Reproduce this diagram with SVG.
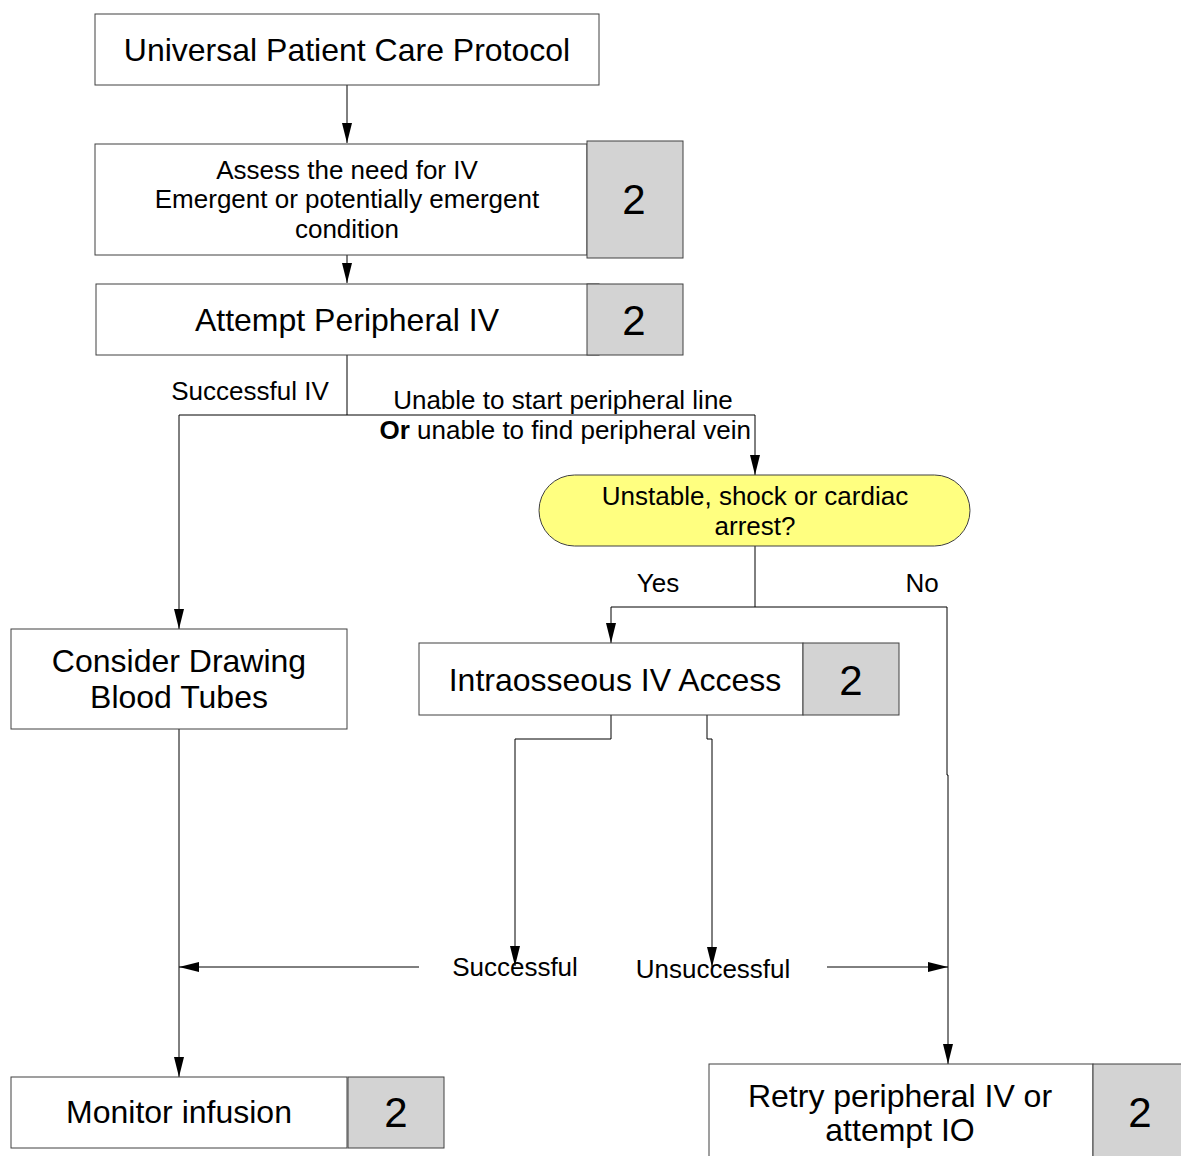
<svg xmlns="http://www.w3.org/2000/svg" width="1181" height="1156" viewBox="0 0 1181 1156">
<style>
.box{fill:#fff;stroke:#404040;stroke-width:1}
.num{fill:#d3d3d3;stroke:#404040;stroke-width:1}
.term{fill:#ffff80;stroke:#404040;stroke-width:1}
.t{font-family:"Liberation Sans",Arial,sans-serif;fill:#000;text-anchor:middle}
.big{font-size:32px}
.med{font-size:26px}
.n{font-size:42px}
.c{fill:none;stroke:#000;stroke-width:1}
</style>
<defs>
<marker id="ah" markerWidth="20" markerHeight="10" refX="20" refY="5" orient="auto" markerUnits="userSpaceOnUse">
<path d="M0,0 L20,5 L0,10 Z" fill="#000"/>
</marker>
</defs>
<rect width="1181" height="1156" fill="#fff"/>
<g id="connectors">
<path class="c" d="M347,85 V143" marker-end="url(#ah)"/>
<path class="c" d="M347,255 V283" marker-end="url(#ah)"/>
<path class="c" d="M347,355 V415"/>
<path class="c" d="M347,415 H179 V629" marker-end="url(#ah)"/>
<path class="c" d="M347,415 H755 V475" marker-end="url(#ah)"/>
<path class="c" d="M755,546 V607"/>
<path class="c" d="M755,607 H611 V643" marker-end="url(#ah)"/>
<path class="c" d="M755,607 H947 V775 H948 V1064" marker-end="url(#ah)"/>
<path class="c" d="M611,715 V739 H515 V966" marker-end="url(#ah)"/>
<path class="c" d="M707,715 V739 H712 V967" marker-end="url(#ah)"/>
<path class="c" d="M419,967 H179" marker-end="url(#ah)"/>
<path class="c" d="M827,967 H948" marker-end="url(#ah)"/>
<path class="c" d="M179,729 V1077" marker-end="url(#ah)"/>
<text class="t med" x="250" y="400">Successful IV</text>
<text class="t med" x="563" y="409">Unable to start peripheral line</text>
<text class="t med" x="751" y="439" style="text-anchor:end"><tspan font-weight="bold">Or</tspan> unable to find peripheral vein</text>
<text class="t med" x="658" y="592">Yes</text>
<text class="t med" x="922" y="592">No</text>
<text class="t med" x="515" y="976">Successful</text>
<text class="t med" x="713" y="978">Unsuccessful</text>
</g>
<g id="n1">
<rect class="box" x="95" y="14" width="504" height="71"/>
<text class="t big" x="347" y="61">Universal Patient Care Protocol</text>
</g>
<g id="n2">
<rect class="box" x="95" y="144" width="492" height="111"/>
<rect class="num" x="587" y="141" width="96" height="117"/>
<text class="t med" x="347" y="179">Assess the need for IV</text>
<text class="t med" x="347" y="208">Emergent or potentially emergent</text>
<text class="t med" x="347" y="238">condition</text>
<text class="t n" x="634" y="214">2</text>
</g>
<g id="n3">
<rect class="box" x="96" y="284" width="503" height="71"/>
<rect class="num" x="587" y="284" width="96" height="71"/>
<text class="t big" x="347" y="331">Attempt Peripheral IV</text>
<text class="t n" x="634" y="335">2</text>
</g>
<g id="n4">
<rect class="term" x="539" y="475" width="431" height="71" rx="35.5" ry="35.5"/>
<text class="t med" x="755" y="505">Unstable, shock or cardiac</text>
<text class="t med" x="755" y="535">arrest?</text>
</g>
<g id="n5">
<rect class="box" x="11" y="629" width="336" height="100"/>
<text class="t big" x="179" y="672">Consider Drawing</text>
<text class="t big" x="179" y="708">Blood Tubes</text>
</g>
<g id="n6">
<rect class="box" x="419" y="643" width="384" height="72"/>
<rect class="num" x="803" y="643" width="96" height="72"/>
<text class="t big" x="615" y="691">Intraosseous IV Access</text>
<text class="t n" x="851" y="695">2</text>
</g>
<g id="n7">
<rect class="box" x="11" y="1077" width="336" height="71"/>
<rect class="num" x="348" y="1077" width="96" height="71"/>
<text class="t big" x="179" y="1123">Monitor infusion</text>
<text class="t n" x="396" y="1127">2</text>
</g>
<g id="n8">
<rect class="box" x="709" y="1064" width="384" height="100"/>
<rect class="num" x="1093" y="1064" width="96" height="100"/>
<text class="t big" x="900" y="1107">Retry peripheral IV or</text>
<text class="t big" x="900" y="1141">attempt IO</text>
<text class="t n" x="1140" y="1127">2</text>
</g>
</svg>
